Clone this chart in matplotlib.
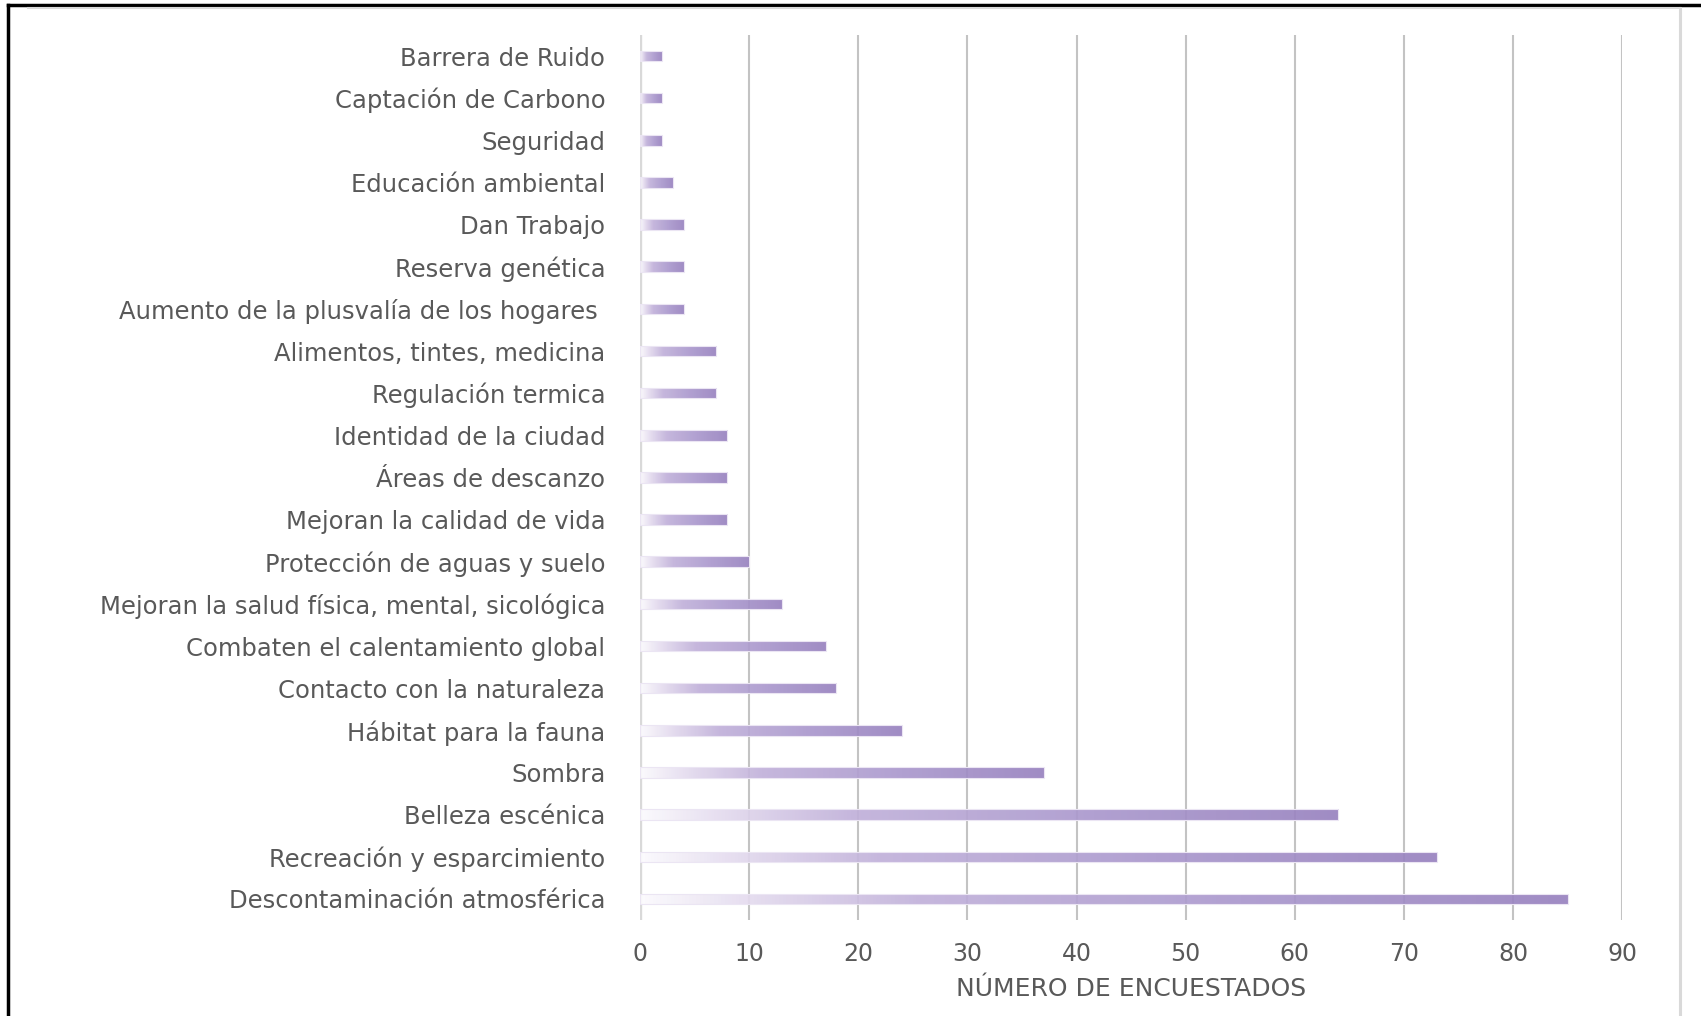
import numpy as np
import matplotlib
matplotlib.use("Agg")
import matplotlib.pyplot as plt
from matplotlib.colors import LinearSegmentedColormap
from matplotlib.lines import Line2D

# Benefits of urban trees perceived by survey respondents (top to bottom)
categories = [
    "Barrera de Ruido",
    "Captación de Carbono",
    "Seguridad",
    "Educación ambiental",
    "Dan Trabajo",
    "Reserva genética",
    "Aumento de la plusvalía de los hogares ",
    "Alimentos, tintes, medicina",
    "Regulación termica",
    "Identidad de la ciudad",
    "Áreas de descanzo",
    "Mejoran la calidad de vida",
    "Protección de aguas y suelo",
    "Mejoran la salud física, mental, sicológica",
    "Combaten el calentamiento global",
    "Contacto con la naturaleza",
    "Hábitat para la fauna",
    "Sombra",
    "Belleza escénica",
    "Recreación y esparcimiento",
    "Descontaminación atmosférica",
]
respondents = [2, 2, 2, 3, 4, 4, 4, 7, 7, 8, 8, 8, 10, 13, 17, 18, 24, 37, 64, 73, 85]
x_ticks = [0, 10, 20, 30, 40, 50, 60, 70, 80, 90]
x_label = "NÚMERO DE ENCUESTADOS"

TEXT = "#595959"
FONT = "DejaVu Sans"

fig = plt.figure(figsize=(17.01, 10.16), dpi=100)
ax = fig.add_axes([0.3763, 0.0945, 0.5773, 0.8711])

n = len(categories)
ypos = np.arange(n)
bar_h = 0.25

# vertical gridlines and the category axis line
for t in x_ticks[1:]:
    ax.axvline(t, color="#c3c3c3", lw=1.5, zorder=1)
ax.axvline(0, color="#d9d9d9", lw=2.4, zorder=1)

# horizontal gradient fill: near white on the left, lavender on the right
grad_cmap = LinearSegmentedColormap.from_list(
    "lav", [(0.0, "#fbfafd"), (0.12, "#e3daee"), (0.3, "#c1b1da"),
            (0.65, "#aa98cd"), (1.0, "#9882bf")])
grad = np.linspace(0, 1, 256).reshape(1, -1)

bars = ax.barh(ypos, respondents, height=bar_h, facecolor="none",
               edgecolor="#ebe5f3", lw=0.8, zorder=3)
for bar, y, v in zip(bars, ypos, respondents):
    im = ax.imshow(grad, cmap=grad_cmap, aspect="auto",
                   extent=[0, v, y + bar_h / 2, y - bar_h / 2],
                   interpolation="bilinear", alpha=0.92, zorder=2)
    im.set_clip_path(bar)
ax.set_xlim(0, 90)
ax.set_ylim(n - 0.5, -0.5)

for s in ax.spines.values():
    s.set_visible(False)

ax.set_yticks(ypos)
ax.set_yticklabels(categories, fontsize=17.5, color=TEXT, family=FONT)
ax.set_xticks(x_ticks)
ax.set_xticklabels([str(t) for t in x_ticks], fontsize=17, color=TEXT,
                   family=FONT)
ax.tick_params(axis="y", length=0, pad=25)
ax.tick_params(axis="x", length=0, pad=16)
ax.set_xlabel(x_label, fontsize=18, color=TEXT, family=FONT, labelpad=8)

# outer frame: black on top and left, grey chart-area border top and right
W, H = 1701, 1016
fig.add_artist(Line2D([8 / W, 1], [1 - 5 / H, 1 - 5 / H], color="black",
                      lw=2.5, transform=fig.transFigure))
fig.add_artist(Line2D([8 / W, 8 / W], [0, 1 - 5 / H], color="black",
                      lw=2.5, transform=fig.transFigure))
fig.add_artist(Line2D([28 / W, 1680 / W], [1 - 7.5 / H, 1 - 7.5 / H],
                      color="#d9d9d9", lw=1.5, transform=fig.transFigure))
fig.add_artist(Line2D([1680 / W, 1680 / W], [0, 1 - 7.5 / H],
                      color="#d9d9d9", lw=2.2, transform=fig.transFigure))

fig.savefig("out.png", dpi=100, facecolor="white")
